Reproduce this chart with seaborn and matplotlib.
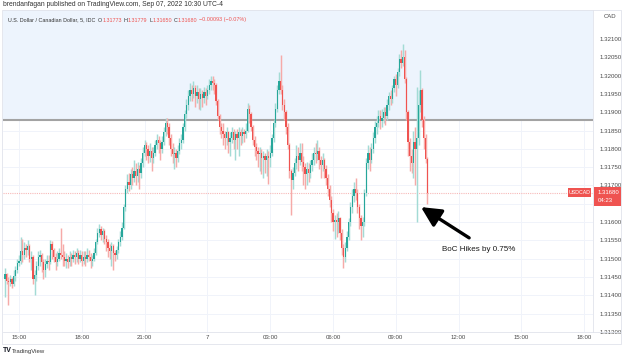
import numpy as np
import pandas as pd
import seaborn as sns
import matplotlib
matplotlib.use("Agg")
import matplotlib.pyplot as plt
from matplotlib.patches import Rectangle
from matplotlib.lines import Line2D

sns.set_theme(style="white")
plt.rcParams['font.family'] = ['Liberation Sans', 'DejaVu Sans']

# ---------------- data (USDCAD 5-min, values in 1e-5 above BASE) ----------------
BASE = 1.31
open_pts = [445,458,440,436,445,430,452,470,488,
            495,520,510,530,525,535,500,505,445,455,480,505,510,490,470,485,495,490,540,525,505,490,500,515,510,505,495,500,490,505,500,510,
            505,515,500,510,495,505,500,510,505,495,500,515,545,570,580,565,575,555,545,530,520,535,515,510,525,545,560,585,640,690,710,700,730,720,
            740,725,745,735,760,790,810,800,780,795,775,790,810,825,815,800,820,845,870,860,830,800,785,790,775,795,815,825,860,895,920,
            945,960,950,965,945,955,935,950,940,955,945,960,975,985,980,975,930,890,860,
            850,840,830,845,820,830,845,825,840,830,845,835,845,840,850,910,
            895,860,825,805,795,785,790,775,780,770,780,775,
            790,830,870,910,960,985,960,920,900,860,810,
            740,715,735,760,780,770,790,765,750,730,745,735,755,770,790,785,795,770,755,770,
            745,720,690,660,625,600,605,600,610,570,530,505,
            530,560,600,640,670,690,680,640,610,590,600,680,760,790,770,800,830,860,
            870,890,875,885,900,890,920,945,935,965,990,975,1010,1045,1035,1050,
            990,900,820,780,760,820,800,830,920,960,880,830,773]
high_pts = [475,462,450,455,450,470,480,500,510,
            560,555,545,540,550,540,520,510,470,495,520,525,515,500,500,510,510,550,548,530,515,520,530,585,540,520,515,510,520,515,525,520,
            530,525,525,520,520,520,530,525,515,510,530,555,585,595,590,585,580,565,555,540,545,540,525,535,555,575,600,650,700,730,735,745,750,770,
            760,765,755,775,805,825,820,810,815,805,805,825,840,835,825,835,860,885,885,870,840,815,805,800,810,830,840,870,905,935,960,
            980,975,985,975,975,965,965,960,970,965,975,990,998,1000,990,980,935,895,870,
            870,850,860,850,845,860,855,850,855,860,855,860,855,870,925,920,
            900,865,835,815,805,805,800,795,790,800,795,810,
            840,880,925,975,1010,1055,975,935,905,870,815,
            745,750,775,810,805,815,815,780,760,765,760,770,790,805,815,825,805,780,790,775,
            755,730,700,670,635,620,625,630,615,580,540,545,
            575,610,655,690,710,720,690,650,620,615,690,775,810,805,815,845,875,890,
            905,905,910,915,915,935,955,960,975,1000,1005,1020,1060,1070,1085,1070,
            995,905,830,800,850,860,970,960,1015,965,890,840,779]
low_pts = [395,430,375,425,420,425,440,460,480,
           485,490,500,505,510,490,470,430,400,440,470,480,465,445,450,475,470,485,500,490,470,480,495,500,480,480,475,475,480,480,490,485,
           490,485,490,480,485,480,490,495,475,480,495,510,540,560,550,545,540,520,505,500,480,470,495,500,515,535,550,580,630,680,685,690,700,710,
           700,710,690,720,750,780,770,760,765,740,760,780,800,790,770,790,810,835,840,810,780,760,745,750,765,785,800,815,850,885,905,
           930,930,940,915,925,910,905,915,925,920,935,950,960,960,950,920,880,840,830,
           810,800,810,790,780,815,800,770,800,780,810,815,820,830,845,870,
           850,810,780,770,750,740,730,720,735,725,705,750,
           780,820,860,900,950,950,905,880,840,800,720,
           620,690,725,745,740,755,740,700,690,700,710,720,740,755,760,770,745,720,740,720,
           700,670,640,600,575,555,560,570,550,510,475,490,
           520,550,590,625,655,660,625,580,550,560,590,670,745,740,760,790,815,840,
           860,855,860,870,865,880,905,920,925,955,945,965,1000,1020,1025,980,
           880,780,740,735,720,700,600,810,900,860,800,760,650]
close_pts = [458,440,436,445,430,452,470,488,495,
             520,510,530,525,535,500,505,445,455,480,505,510,490,470,485,495,490,540,525,505,490,500,515,510,505,495,500,490,505,500,510,505,
             515,500,510,495,505,500,510,505,495,500,515,545,570,580,565,575,555,545,530,520,535,515,510,525,545,560,585,640,690,710,700,730,720,740,
             725,745,735,760,790,810,800,780,795,775,790,810,825,815,800,820,845,870,860,830,800,785,790,775,795,815,825,860,895,920,945,
             960,950,965,945,955,935,950,940,955,945,960,975,985,980,975,930,890,860,850,
             840,830,845,820,830,845,825,840,830,845,835,845,840,850,910,895,
             860,825,805,795,785,790,775,780,770,780,775,790,
             830,870,910,960,985,960,920,900,860,810,740,
             715,735,760,780,770,790,765,750,730,745,735,755,770,790,785,795,770,755,770,745,
             720,690,660,625,600,605,600,610,570,530,505,530,
             560,600,640,670,690,680,640,610,590,600,680,760,790,770,800,830,860,870,
             890,875,885,900,890,920,945,935,965,990,975,1010,1045,1035,1050,990,
             900,820,780,760,820,800,830,920,960,880,830,773,680]

time_labels = ["15:00", "18:00", "21:00", "7", "03:00", "06:00", "09:00", "12:00", "15:00", "18:00"]
time_label_bars = [8, 44, 80, 116, 152, 188, 224, 260, 296, 332]
price_ticks = [1.3130, 1.3135, 1.3140, 1.3145, 1.3150, 1.3155, 1.3160, 1.3165, 1.3170,
               1.3175, 1.3180, 1.3185, 1.3190, 1.3195, 1.3200, 1.3205, 1.3210]
resistance_level = 1.31879
last_price = 1.31680

df = pd.DataFrame({
    "open": BASE + np.array(open_pts) * 1e-5,
    "high": BASE + np.array(high_pts) * 1e-5,
    "low": BASE + np.array(low_pts) * 1e-5,
    "close": BASE + np.array(close_pts) * 1e-5,
})
df["bar"] = np.arange(len(df))
df["up"] = df["close"] >= df["open"]

# ---------------- figure ----------------
W, H = 624, 359
fig = plt.figure(figsize=(W / 100, H / 100), dpi=100)
fig.patch.set_facecolor("white")

def fx(x):
    return x / W

def fy(y):
    return 1 - y / H

L_, R_, T_, B_ = 3, 593, 10, 332
ax = fig.add_axes([fx(L_), fy(B_), fx(R_) - fx(L_), fy(T_) - fy(B_)])
ax.set_facecolor("white")
ax.set_xlim(-1.15, 337)
ax.set_ylim(1.31300, 1.32179)

UP, DN = "#26a69a", "#ef5350"
UP_W, DN_W = "#a3dbd5", "#f6aaa8"

# grid
for p in price_ticks:
    ax.axhline(p, color="#f0f3fa", lw=0.7, zorder=0)
for b in time_label_bars:
    ax.axvline(b, color="#f0f3fa", lw=0.7, zorder=0)

# shaded zone above resistance
ax.axhspan(resistance_level, 1.3230, color="#edf4fd", zorder=0.5, lw=0)
ax.axhline(resistance_level, color="#a3a3a3", lw=1.5, zorder=1)
ax.axhline(last_price, color="#f7b9b8", lw=0.8, ls=(0, (1, 1)), zorder=1)

# candles
wick_cols = np.where(df["up"], UP_W, DN_W)
body_cols = np.where(df["up"], UP, DN)
ax.vlines(df["bar"], df["low"], df["high"], colors=wick_cols, lw=1.05, zorder=2)
body_bottom = np.minimum(df["open"], df["close"])
body_h = np.maximum(np.abs(df["close"] - df["open"]), 0.00003)
ax.bar(df["bar"], body_h, bottom=body_bottom, width=0.72, color=body_cols, lw=0, zorder=3)

# axes styling
for s in ["left", "top"]:
    ax.spines[s].set_visible(False)
ax.spines["right"].set_color("#e0e3eb")
ax.spines["bottom"].set_color("#e0e3eb")
ax.spines["right"].set_linewidth(0.6)
ax.spines["bottom"].set_linewidth(0.6)
ax.yaxis.tick_right()
ax.set_yticks(price_ticks)
ax.set_yticklabels(["" if abs(p - 1.3165) < 1e-9 else f"{p:.5f}" for p in price_ticks])
ax.set_xticks(time_label_bars)
ax.set_xticklabels(time_labels)
ax.tick_params(axis="both", length=0, labelsize=4.4, colors="#4a4a4a")
ax.tick_params(axis="y", pad=5)
ax.tick_params(axis="x", pad=2.5)
ax.set_xlabel("")
ax.set_ylabel("")

# annotation arrow + text
ax.annotate("", xy=(238.4, 1.31641), xytext=(266.0, 1.31557),
            arrowprops=dict(arrowstyle="-|>,head_length=1.0,head_width=0.5",
                            color="black", lw=2.4, shrinkA=0, shrinkB=0),
            zorder=5)
ax.text(271.6, 1.31524, "BoC Hikes by 0.75%", fontsize=5.8, color="#1a1a1a",
        ha="center", va="center", zorder=5)

# outer panel border
fig.add_artist(Rectangle((fx(2), fy(344)), fx(621) - fx(2), fy(10) - fy(344),
                         transform=fig.transFigure, fill=False, ec="#e0e3eb", lw=0.6))
fig.add_artist(Line2D([fx(593), fx(621)], [fy(332), fy(332)], transform=fig.transFigure,
                      color="#e0e3eb", lw=0.6))

# header texts
fig.text(fx(3), fy(5), "brendanfagan published on TradingView.com, Sep 07, 2022 10:30 UTC-4",
         fontsize=4.9, color="#333333", va="center", ha="left")

legend_parts = [("U.S. Dollar / Canadian Dollar, 5, IDC", "#333333", 2.5),
                ("O", "#333333", 0.2), ("1.31773", DN, 1.8),
                ("H", "#333333", 0.2), ("1.31779", DN, 1.8),
                ("L", "#333333", 0.2), ("1.31650", DN, 1.8),
                ("C", "#333333", 0.2), ("1.31680", DN, 1.8),
                ("\u22120.00093 (\u22120.07%)", DN, 0)]
renderer = fig.canvas.get_renderer()
xpos = 8.0
for t, c, gap in legend_parts:
    txt = fig.text(fx(xpos), fy(20), t, fontsize=3.9, color=c, va="center", ha="left")
    bb = txt.get_window_extent(renderer=renderer)
    xpos += bb.width + gap

fig.text(fx(604), fy(17), "CAD", fontsize=4.3, color="#4a4a4a", va="center", ha="left")

# price label boxes
fig.add_artist(Rectangle((fx(568), fy(197)), fx(591) - fx(568), fy(188) - fy(197),
                         transform=fig.transFigure, fc=DN, ec="none", zorder=10))
fig.text(fx(579.5), fy(192.5), "USDCAD", fontsize=3.8, color="white", ha="center", va="center", zorder=11)
fig.add_artist(Rectangle((fx(594), fy(206)), fx(621) - fx(594), fy(187) - fy(206),
                         transform=fig.transFigure, fc=DN, ec="none", zorder=10))
fig.text(fx(598), fy(192), "1.31680", fontsize=4.3, color="white", ha="left", va="center", zorder=11)
fig.text(fx(598), fy(201), "04:23", fontsize=4.3, color="white", ha="left", va="center", zorder=11)

# footer logo
fig.text(fx(3), fy(351), "TV", fontsize=5, color="#131722", fontweight="bold", va="center", ha="left")
fig.text(fx(12), fy(351), "TradingView", fontsize=4.3, color="#333333", va="center", ha="left")

fig.savefig("out.png", dpi=100, facecolor="white")
